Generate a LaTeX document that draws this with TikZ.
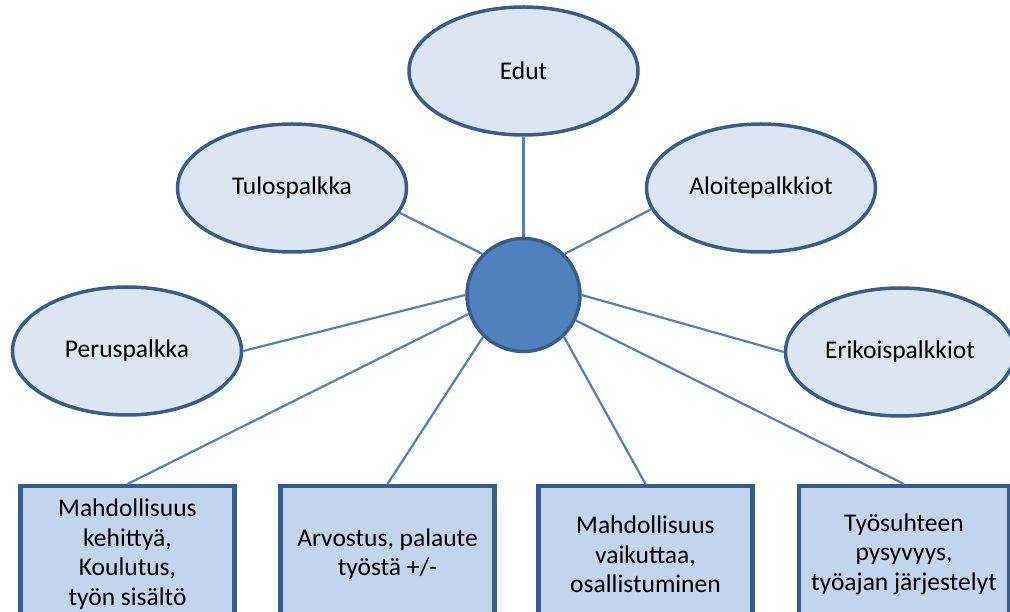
\documentclass[tikz,border=0pt]{standalone}
\usepackage{fontspec}
\setmainfont{Carlito}
\usetikzlibrary{shapes.geometric}

\definecolor{lineblue}{HTML}{4F81BD}
\definecolor{edgeblue}{HTML}{385D8A}
\definecolor{ovalfill}{HTML}{DCE6F2}
\definecolor{boxfill}{HTML}{C3D5ED}

\begin{document}
\begin{tikzpicture}[x=1pt, y=1pt,
	oval/.style={ellipse, draw=edgeblue, line width=3.5pt, fill=ovalfill, minimum width=229pt, minimum height=128pt, inner sep=0pt, font=\fontsize{25.5}{29}\selectfont},
	hubnode/.style={circle, draw=edgeblue, line width=3.5pt, fill=lineblue, minimum size=113pt},
	topicbox/.style={rectangle, draw=edgeblue, line width=4.5pt, fill=boxfill, minimum width=214pt, minimum height=136pt, anchor=north, align=center, font=\fontsize{25.5}{29.5}\selectfont},
	spoke/.style={draw=lineblue, line width=2.2pt}]
	\useasboundingbox (0,0) rectangle (1010,611);
	\clip (0,0) rectangle (1010,611);

	\node [hubnode] (hub) at (523.5,316) {};

	\node [oval] (edut) at (523.5,540) {Edut};
	\node [oval] (tulo) at (292,423) {Tulospalkka};
	\node [oval] (aloite) at (761,423) {Aloitepalkkiot};
	\node [oval] (perus) at (127,260) {Peruspalkka};
	\node [oval] (erikois) at (900,259) {Erikoispalkkiot};

	\node [topicbox] (kehitys) at (127.5,127) {Mahdollisuus\\kehittyä,\\Koulutus,\\työn sisältö};
	\node [topicbox] (arvostus) at (387.5,127) {Arvostus, palaute\\työstä +/-};
	\node [topicbox] (vaikutus) at (645.5,127) {Mahdollisuus\\vaikuttaa,\\osallistuminen};
	\node [topicbox, minimum width=210pt] (tyosuhde) at (904,127) {Työsuhteen\\pysyvyys,\\työajan järjestelyt};

	\draw [spoke] (hub.north) -- (edut.south);
	\draw [spoke] (hub.135) -- (tulo.-13);
	\draw [spoke] (hub.45) -- (aloite.191);
	\draw [spoke] (hub.west) -- (perus.east);
	\draw [spoke] (hub.east) -- (erikois.west);
	\draw [spoke] (hub.199) -- (kehitys.north);
	\draw [spoke] (hub.226) -- (arvostus.north);
	\draw [spoke] (hub.-46) -- (vaikutus.north);
	\draw [spoke] (hub.-26) -- (tyosuhde.north);
\end{tikzpicture}
\end{document}
